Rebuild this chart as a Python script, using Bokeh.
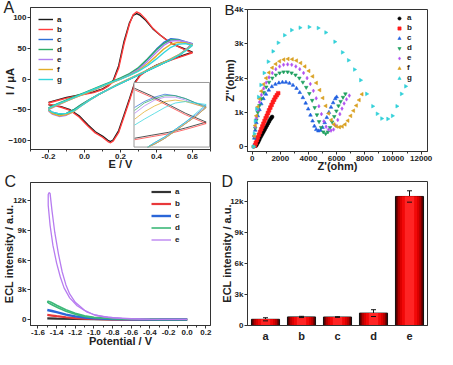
import math
from bokeh.plotting import figure
from bokeh.layouts import column, row
from bokeh.models import (Range1d, FixedTicker, Legend, LegendItem, Whisker,
                          ColumnDataSource, FactorRange, NumeralTickFormatter)
from bokeh.embed import file_html
from bokeh.resources import INLINE

FONT = "Liberation Sans"

# ---------------- Panel A : cyclic voltammograms ----------------
A_labels = ["a", "b", "c", "d", "e", "f", "g"]
A_colors = ["#1a1a1a", "#ff3b3b", "#2f6fd6", "#2fae6a", "#b07ff0", "#e3ad2a", "#33d6dc"]

ab_E = [-0.2, -0.15, -0.1, -0.05, 0.0, 0.05, 0.1, 0.13, 0.16, 0.19, 0.22, 0.25, 0.27, 0.29, 0.31, 0.34,
        0.38, 0.42, 0.46, 0.5, 0.55, 0.6,
        0.6, 0.55, 0.5, 0.45, 0.4, 0.35, 0.31, 0.28, 0.25, 0.22, 0.19, 0.16, 0.145, 0.13, 0.1, 0.06,
        0.02, -0.03, -0.08, -0.13, -0.17, -0.2]
a_I = [-38, -34, -30, -27, -24, -21, -16, -11, -2, 22, 62, 92, 104, 107, 104, 96,
       82, 72, 63, 56, 50, 44,
       44, 39, 34, 29, 23, 15, 7, -5, -32, -58, -84, -99, -102, -100, -93, -86,
       -75, -60, -50, -45, -43, -42]
b_I = [-39, -35, -31, -28, -25, -22, -17, -12, -4, 18, 58, 90, 105, 110, 107, 98,
       83, 72, 63, 56, 49, 43,
       43, 38, 33, 28, 22, 14, 6, -7, -35, -61, -87, -101, -104, -102, -95, -88,
       -77, -62, -51, -46, -43, -41]

cg_E = [-0.2, -0.15, -0.1, -0.05, 0.0, 0.05, 0.1, 0.15, 0.2, 0.25, 0.3, 0.35, 0.4, 0.44, 0.48, 0.52, 0.56, 0.6,
        0.6, 0.57, 0.53, 0.48, 0.43, 0.38, 0.33, 0.28, 0.23, 0.18, 0.13, 0.08, 0.03, -0.02, -0.06, -0.1,
        -0.14, -0.18, -0.2]
c_I = [-48, -41, -35, -29, -23, -17, -11, -5, 1, 8, 18, 33, 49, 60, 66, 65, 61, 58,
       58, 50, 40, 32, 25, 18, 11, 4, -3, -10, -17, -25, -33, -42, -50, -56, -57, -54, -50]
d_I = [-47, -40, -34, -28, -22, -16, -10, -4, 2, 9, 19, 33, 48, 58, 64, 64, 60, 57,
       57, 49, 40, 32, 25, 18, 11, 4, -3, -10, -17, -25, -33, -42, -50, -56, -58, -55, -50]
e_I = [-50, -43, -36, -30, -24, -18, -12, -6, 0, 7, 16, 29, 44, 55, 62, 63, 61, 57,
       57, 50, 41, 33, 26, 19, 12, 5, -2, -9, -17, -25, -34, -44, -53, -59, -61, -57, -52]
f_I = [-49, -42, -36, -30, -24, -18, -12, -6, 0, 6, 14, 25, 38, 49, 57, 60, 59, 56,
       56, 49, 41, 33, 26, 19, 12, 5, -2, -9, -17, -25, -34, -44, -53, -58, -60, -56, -51]
g_I = [-48, -41, -35, -29, -23, -17, -11, -5, 0, 6, 13, 22, 33, 43, 52, 57, 58, 55,
       55, 48, 40, 32, 25, 18, 11, 4, -3, -10, -17, -25, -34, -44, -52, -56, -57, -54, -50]

# inset (zoomed view, its own window)
ins_ab_E = [0.402, 0.45, 0.50, 0.55, 0.61, 0.61, 0.55, 0.50, 0.45, 0.402]
ins_a_I = [68, 63, 57, 51, 45, 45, 41, 38, 36, 34]
ins_b_I = [67, 62, 56, 50, 44, 44, 40, 37, 35, 33]
ins_cg_E = [0.402, 0.43, 0.46, 0.49, 0.52, 0.55, 0.58, 0.61, 0.61, 0.58, 0.55, 0.52, 0.49, 0.46, 0.44]
ins_c_I = [55, 59, 62, 64, 63, 61, 58, 56, 56, 50, 45, 40, 35, 31, 28]
ins_d_I = [53, 58, 61, 63, 63, 61, 58, 55, 55, 49, 44, 39, 34, 30, 28]
ins_e_I = [51, 56, 60, 62, 62, 60, 57, 55, 55, 49, 44, 39, 34, 30, 28]
ins_f_I = [47, 52, 56, 59, 60, 59, 57, 55, 55, 49, 44, 39, 34, 30, 28]
ins_g_I = [43, 47, 51, 55, 58, 59, 58, 57, 57, 51, 45, 40, 35, 31, 28]

# ---------------- Panel B : Nyquist plots ----------------
B_labels = ["a", "b", "c", "d", "e", "f", "g"]
B_colors = ["#000000", "#ff1a1a", "#2060e0", "#1fa060", "#b050f0", "#d9a020", "#30d0d8"]
B_markers = ["circle", "square", "triangle", "inverted_triangle", "diamond", "triangle", "triangle"]
B_angles = [0, 0, 0, 0, 0, math.pi / 2, -math.pi / 2]

Ba_x = [280, 350, 420, 490, 560, 640, 720, 800, 880, 960, 1040, 1120, 1200, 1280, 1360, 1420]
Ba_y = [30, 80, 130, 190, 250, 310, 370, 430, 490, 550, 610, 670, 730, 790, 840, 870]
Bb_x = [200, 260, 330, 400, 480, 560, 640, 720, 800, 880, 960, 1040, 1120, 1200, 1290, 1380, 1470, 1560,
        1650, 1750, 1850]
Bb_y = [40, 110, 190, 270, 350, 430, 510, 590, 670, 750, 830, 900, 980, 1060, 1140, 1220, 1300, 1370,
        1440, 1500, 1560]
Bc_x = [100, 150, 220, 300, 400, 520, 650, 800, 980, 1180, 1400, 1650, 1900, 2150, 2400, 2650, 2900, 3150,
        3380, 3600, 3800, 3980, 4140, 4290, 4420, 4550, 4700, 4850, 5000, 5150, 5300, 5450, 5600, 5750,
        5900, 6000]
Bc_y = [0, 250, 480, 700, 900, 1080, 1250, 1400, 1530, 1650, 1750, 1820, 1860, 1880, 1880, 1850, 1790, 1700,
        1580, 1430, 1270, 1100, 920, 750, 600, 500, 460, 480, 560, 700, 850, 1000, 1150, 1280, 1400, 1450]
Bd_x = [100, 150, 220, 300, 400, 520, 660, 820, 1000, 1200, 1430, 1680, 1950, 2230, 2520, 2800, 3080, 3350,
        3600, 3840, 4060, 4260, 4440, 4600, 4750, 4900, 5050, 5220, 5380, 5530, 5680, 5830, 5980, 6130,
        6280, 6450, 6620]
Bd_y = [0, 280, 540, 780, 1000, 1200, 1400, 1580, 1740, 1880, 2000, 2090, 2150, 2180, 2180, 2150, 2090, 2000,
        1880, 1730, 1550, 1350, 1140, 930, 730, 560, 430, 380, 430, 560, 720, 880, 1040, 1190, 1320, 1440,
        1540]
Be_x = [100, 150, 220, 300, 400, 520, 660, 820, 1000, 1200, 1430, 1680, 1950, 2230, 2520, 2810, 3100, 3380,
        3650, 3900, 4130, 4350, 4550, 4740, 4920, 5090, 5250, 5420, 5600, 5780, 5930, 6080, 6230, 6380,
        6530, 6700, 6900]
Be_y = [0, 300, 580, 840, 1080, 1300, 1510, 1700, 1870, 2020, 2150, 2260, 2340, 2390, 2400, 2390, 2340, 2260,
        2150, 2000, 1830, 1630, 1410, 1180, 950, 740, 580, 500, 470, 500, 620, 780, 950, 1110, 1260, 1380,
        1490]
Bf_x = [100, 150, 220, 300, 400, 520, 660, 820, 1000, 1200, 1430, 1680, 1950, 2250, 2550, 2850, 3150, 3450,
        3750, 4030, 4300, 4560, 4800, 5020, 5230, 5430, 5620, 5810, 6000, 6200, 6400, 6600, 6800, 7000,
        7200, 7400, 7600, 7800]
Bf_y = [0, 320, 620, 900, 1160, 1400, 1620, 1820, 2000, 2160, 2300, 2410, 2490, 2540, 2560, 2550, 2510, 2440,
        2340, 2210, 2050, 1860, 1650, 1420, 1190, 970, 780, 650, 590, 570, 590, 650, 760, 900, 1050, 1200,
        1360, 1530]
Bg_x = [100, 150, 220, 320, 450, 620, 850, 1140, 1480, 1850, 2300, 2800, 3400, 4050, 4690, 5230, 5870, 6410,
        6840, 7270, 7700, 8130, 8560, 8880, 9200, 9630, 9960, 10280, 10600, 10900]
Bg_y = [0, 380, 750, 1100, 1450, 1800, 2150, 2480, 2780, 3030, 3250, 3400, 3470, 3490, 3460, 3330, 3060, 2750,
        2520, 2250, 1940, 1540, 1180, 960, 820, 810, 900, 1180, 1540, 1760]
B_x = [Ba_x, Bb_x, Bc_x, Bd_x, Be_x, Bf_x, Bg_x]
B_y = [Ba_y, Bb_y, Bc_y, Bd_y, Be_y, Bf_y, Bg_y]

# ---------------- Panel C : ECL-potential curves ----------------
C_labels = ["a", "b", "c", "d", "e"]
C_colors = ["#333333", "#e8383a", "#2a66d8", "#3cb878", "#b77cf0"]
Ca_E = [-1.5, -1.4, -1.2, -1.0, -0.8, -0.5, 0.0]
Ca_I = [130, 115, 90, 65, 45, 25, 15]
Cb_E = [-1.5, -1.45, -1.4, -1.3, -1.2, -1.1, -1.0, -0.8, -0.5, 0.0]
Cb_I = [480, 420, 360, 250, 170, 115, 80, 45, 25, 15]
Cc_E = [-1.5, -1.45, -1.4, -1.3, -1.2, -1.1, -1.0, -0.8, -0.6, -0.3, 0.0]
Cc_I = [980, 880, 760, 520, 340, 220, 140, 70, 45, 30, 25]
Cd1_E = [-1.5, -1.49, -1.46, -1.4, -1.3, -1.2, -1.1, -1.0, -0.8, -0.6, -0.3, 0.0]
Cd1_I = [1800, 1870, 1750, 1450, 1000, 650, 400, 250, 120, 70, 40, 30]
Cd2_E = [-1.5, -1.48, -1.44, -1.38, -1.3, -1.2, -1.1, -1.0, -0.8, -0.6, -0.3, 0.0]
Cd2_I = [1800, 1650, 1450, 1180, 850, 540, 330, 200, 100, 60, 35, 25]
Ce1_E = [-1.48, -1.47, -1.45, -1.42, -1.38, -1.34, -1.3, -1.26, -1.2, -1.1, -1.0, -0.9, -0.8, -0.6, -0.4, 0.0]
Ce1_I = [12800, 12700, 11000, 8800, 6600, 4800, 3500, 2600, 1750, 950, 500, 300, 200, 100, 60, 40]
Ce2_E = [-1.48, -1.49, -1.49, -1.47, -1.44, -1.4, -1.36, -1.32, -1.26, -1.18, -1.08, -0.98, -0.85, -0.7,
         -0.5, 0.0]
Ce2_I = [12800, 12600, 11500, 9500, 7500, 5700, 4300, 3200, 2200, 1400, 800, 450, 250, 130, 70, 30]

# ---------------- Panel D : ECL bars ----------------
D_cats = ["a", "b", "c", "d", "e"]
D_vals = [600, 830, 820, 1200, 12500]
D_errs = [150, 60, 30, 330, 550]


def style(p, xs, ys):
    p.xgrid.visible = False
    p.ygrid.visible = False
    p.outline_line_color = "#333333"
    p.outline_line_width = 1
    p.background_fill_color = "white"
    p.border_fill_color = "white"
    for ax in p.axis:
        ax.major_label_text_font = FONT
        ax.major_label_text_font_style = "bold"
        ax.major_label_text_font_size = "8px"
        ax.major_label_text_color = "#222222"
        ax.axis_label_text_font = FONT
        ax.axis_label_text_font_style = "bold"
        ax.axis_label_text_font_size = "11px"
        ax.axis_label_text_color = "#222222"
        ax.axis_line_color = "#333333"
        ax.major_tick_line_color = "#333333"
        ax.minor_tick_line_color = "#333333"
        ax.major_tick_out = 3
        ax.major_tick_in = 0
        ax.minor_tick_out = 2
        ax.minor_tick_in = 0
        ax.major_label_standoff = 1
    p.xaxis.axis_label_standoff = xs
    p.yaxis.axis_label_standoff = ys


def letter(p, txt, offset, standoff, size="16px"):
    p.title.text = txt
    p.title.align = "left"
    p.title.vertical_align = "middle"
    p.title.offset = offset
    p.title.standoff = standoff
    p.title.text_font = FONT
    p.title.text_font_size = size
    p.title.text_font_style = "normal"
    p.title.text_color = "#222222"


def legend(p, items, loc, gw, lh, sp, m, lw=20):
    lg = Legend(items=items, location=loc, glyph_width=gw, glyph_height=lh, label_height=lh,
                label_width=lw, spacing=sp, label_standoff=4, padding=2, margin=m,
                border_line_color=None, background_fill_alpha=0, label_text_font=FONT,
                label_text_font_style="bold", label_text_font_size="8px",
                label_text_color="#222222")
    p.add_layout(lg)


# ---- A ----
XA = (-0.3, 0.7)
YA = (-115, 117)
pA = figure(width=218, height=172, x_range=Range1d(*XA), y_range=Range1d(*YA),
            output_backend="svg", toolbar_location=None,
            min_border_left=29, min_border_right=8, min_border_top=7, min_border_bottom=23)
A_series = [(ab_E, a_I), (ab_E, b_I), (cg_E, c_I), (cg_E, d_I), (cg_E, e_I), (cg_E, f_I), (cg_E, g_I)]
itemsA = []
for (xs, ys), lab, col in zip(A_series, A_labels, A_colors):
    r = pA.line(xs, ys, line_color=col, line_width=1.4)
    itemsA.append(LegendItem(label=lab, renderers=[r]))

box_l, box_r, box_b, box_t = 0.275, 0.695, -111, -5.5
win_x = (0.40, 0.62)
win_y = (28, 72)
fx0 = (box_l - XA[0]) / (XA[1] - XA[0]); fx1 = (box_r - XA[0]) / (XA[1] - XA[0])
fy0 = (box_b - YA[0]) / (YA[1] - YA[0]); fy1 = (box_t - YA[0]) / (YA[1] - YA[0])
sx_span = (win_x[1] - win_x[0]) / (fx1 - fx0)
sy_span = (win_y[1] - win_y[0]) / (fy1 - fy0)
pA.extra_x_ranges = {"inx": Range1d(win_x[0] - fx0 * sx_span, win_x[0] + (1 - fx0) * sx_span)}
pA.extra_y_ranges = {"iny": Range1d(win_y[0] - fy0 * sy_span, win_y[0] + (1 - fy0) * sy_span)}
pA.quad(left=[box_l], right=[box_r], bottom=[box_b], top=[box_t], fill_color="white",
        line_color="#9a9a9a", line_width=1)
ins_series = [(ins_ab_E, ins_a_I), (ins_ab_E, ins_b_I), (ins_cg_E, ins_c_I), (ins_cg_E, ins_d_I),
              (ins_cg_E, ins_e_I), (ins_cg_E, ins_f_I), (ins_cg_E, ins_g_I)]
for (xs, ys), col in zip(ins_series, A_colors):
    pA.line(xs, ys, line_color=col, line_width=1.0, line_alpha=0.75,
            x_range_name="inx", y_range_name="iny")

pA.xaxis.ticker = FixedTicker(ticks=[-0.2, 0.0, 0.2, 0.4, 0.6],
                              minor_ticks=[-0.3, -0.1, 0.1, 0.3, 0.5, 0.7])
pA.xaxis.formatter = NumeralTickFormatter(format="0.0")
pA.yaxis.ticker = FixedTicker(ticks=[-100, -50, 0, 50, 100], minor_ticks=[])
pA.xaxis.axis_label = "E / V"
pA.yaxis.axis_label = "I  /  μA"
style(pA, xs=-4, ys=-11)
legend(pA, itemsA, (8, 65), 15, 10, 0, 0, lw=10)
letter(pA, "A", -27, -29)

# ---- B ----
XB = (-330, 12450)
YB = (-140, 4000)
pB = figure(width=218, height=174, x_range=Range1d(*XB), y_range=Range1d(*YB),
            output_backend="svg", toolbar_location=None,
            min_border_left=27, min_border_right=6, min_border_top=9, min_border_bottom=23)
itemsB = []
for xs, ys, lab, col, mk, ang in zip(B_x, B_y, B_labels, B_colors, B_markers, B_angles):
    r = pB.scatter(xs, ys, marker=mk, angle=ang, size=3.6, fill_color=col, line_color=col,
                   line_width=0.6)
    itemsB.append(LegendItem(label=lab, renderers=[r]))
pB.xaxis.ticker = FixedTicker(ticks=[0, 2000, 4000, 6000, 8000, 10000, 12000],
                              minor_ticks=[1000, 3000, 5000, 7000, 9000, 11000])
pB.yaxis.ticker = FixedTicker(ticks=[0, 1000, 2000, 3000, 4000], minor_ticks=[])
pB.yaxis.major_label_overrides = {0: "0", 1000: "1k", 2000: "2k", 3000: "3k", 4000: "4k"}
pB.xaxis.axis_label = "Z'(ohm)"
pB.yaxis.axis_label = "Z''(ohm)"
style(pB, xs=-4, ys=-4)
legend(pB, itemsB, "top_right", 8, 8, 1, 4, lw=16)
letter(pB, "B", -23, -37, size="15px")

# ---- C ----
XC = (-1.68, 0.25)
YC = (-580, 13800)
pC = figure(width=218, height=177, x_range=Range1d(*XC), y_range=Range1d(*YC),
            output_backend="svg", toolbar_location=None,
            min_border_left=29, min_border_right=4, min_border_top=10, min_border_bottom=24)
C_series = [[(Ca_E, Ca_I)], [(Cb_E, Cb_I)], [(Cc_E, Cc_I)], [(Cd1_E, Cd1_I), (Cd2_E, Cd2_I)],
            [(Ce1_E, Ce1_I), (Ce2_E, Ce2_I)]]
C_widths = [2.2, 2.2, 2.4, 1.6, 1.3]
itemsC = []
for ser, lab, col, lw in zip(C_series, C_labels, C_colors, C_widths):
    rs = [pC.line(xs, ys, line_color=col, line_width=lw) for xs, ys in ser]
    itemsC.append(LegendItem(label=lab, renderers=[rs[0]]))
pC.xaxis.ticker = FixedTicker(ticks=[-1.6, -1.4, -1.2, -1.0, -0.8, -0.6, -0.4, -0.2, 0.0, 0.2],
                              minor_ticks=[-1.5, -1.3, -1.1, -0.9, -0.7, -0.5, -0.3, -0.1, 0.1])
pC.xaxis.formatter = NumeralTickFormatter(format="0.0")
pC.yaxis.ticker = FixedTicker(ticks=[0, 3000, 6000, 9000, 12000], minor_ticks=[])
pC.yaxis.major_label_overrides = {0: "0", 3000: "3k", 6000: "6k", 9000: "9k", 12000: "12k"}
pC.xaxis.axis_label = "Potential / V"
pC.yaxis.axis_label = "ECL intensity / a.u."
style(pC, xs=-3, ys=-5)
legend(pC, itemsC, "top_right", 20, 11, 1, 4, lw=31)
letter(pC, "C", -26, -16)

# ---- D ----
YD = (0, 13950)
pD = figure(width=218, height=175, x_range=FactorRange(factors=D_cats), y_range=Range1d(*YD),
            output_backend="svg", toolbar_location=None,
            min_border_left=28, min_border_right=9, min_border_top=7, min_border_bottom=24)
srcD = ColumnDataSource(dict(cat=D_cats, val=D_vals,
                             lo=[v - e for v, e in zip(D_vals, D_errs)],
                             hi=[v + e for v, e in zip(D_vals, D_errs)]))
layers = [(0.78, "#3a0000"), (0.72, "#7a0000"), (0.64, "#b00000"), (0.54, "#da0000"),
          (0.42, "#f20808"), (0.26, "#ff2424")]
for i, (w, col) in enumerate(layers):
    pD.vbar(x="cat", top="val", width=w, source=srcD, fill_color=col,
            line_color="#111111" if i == 0 else None, line_width=1)
pD.add_layout(Whisker(source=srcD, base="cat", upper="hi", lower="lo", line_color="#111111",
                      line_width=1, upper_head=None, lower_head=None))
pD.scatter(x="cat", y="hi", source=srcD, marker="dash", size=5, line_color="#111111")
pD.scatter(x="cat", y="lo", source=srcD, marker="dash", size=5, line_color="#111111")
pD.yaxis.ticker = FixedTicker(ticks=[0, 3000, 6000, 9000, 12000], minor_ticks=[])
pD.yaxis.major_label_overrides = {0: "0", 3000: "3k", 6000: "6k", 9000: "9k", 12000: "12k"}
pD.yaxis.axis_label = "ECL intensity / a.u."
style(pD, xs=-3, ys=-6)
pD.xaxis.major_label_text_font_size = "11px"
pD.xaxis.major_tick_line_color = None
pD.x_range.range_padding = 0
letter(pD, "D", -26, -21)

layout = row(column(pA, pC), column(pB, pD))
open("out.html", "w").write(file_html(layout, INLINE))
